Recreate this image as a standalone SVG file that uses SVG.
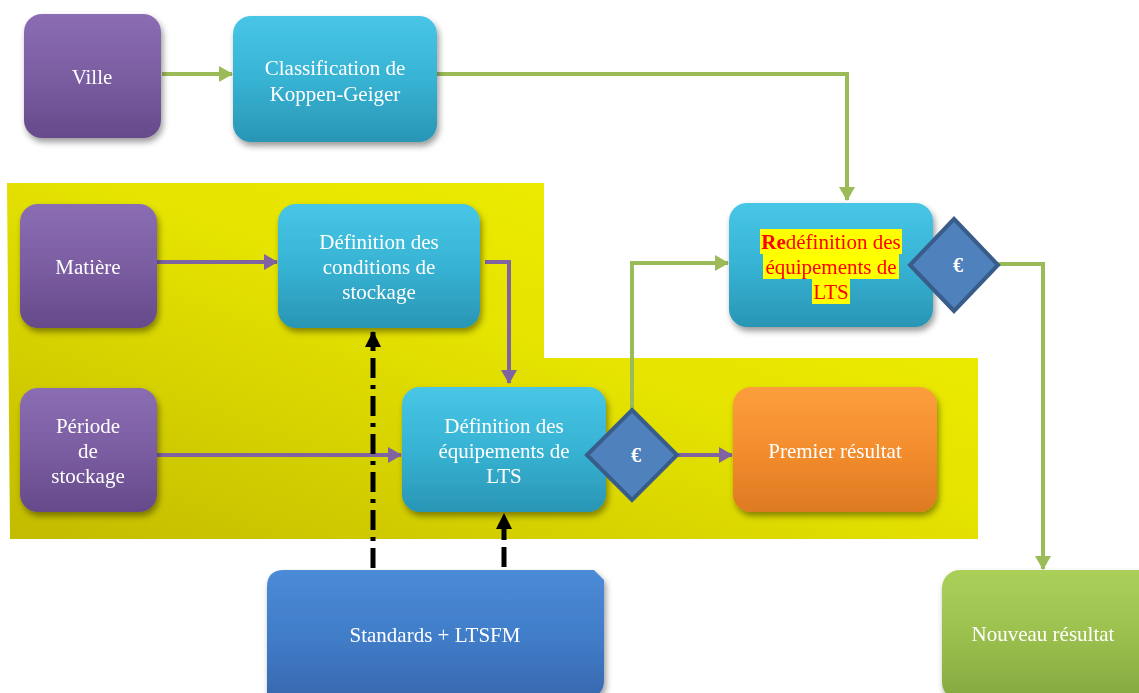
<svg xmlns="http://www.w3.org/2000/svg" width="1139" height="693" viewBox="0 0 1139 693">
<defs>
<style>
.t{font-family:"Liberation Serif","Times New Roman",serif;font-size:21px;fill:#fff;text-anchor:middle}
.eu{font-family:"Liberation Serif","Times New Roman",serif;font-size:20px;font-weight:bold;fill:#fff;text-anchor:middle}
.r{font-family:"Liberation Serif","Times New Roman",serif;font-size:21px;fill:#ff0000;text-anchor:middle}
.g{fill:none;stroke:#9BBB59;stroke-width:4}
.p{fill:none;stroke:#8064A2;stroke-width:4}
.k{fill:none;stroke:#000;stroke-width:5}
.dia{fill:#4F81BD;stroke:#385D8A;stroke-width:4}
.hl{fill:#ffff00}
</style>
<linearGradient id="gy" x1="1" y1="0" x2="0" y2="1">
<stop offset="0" stop-color="#F0F000"/><stop offset="0.45" stop-color="#E6E400"/><stop offset="1" stop-color="#C2BB00"/>
</linearGradient>
<linearGradient id="gp" x1="0" y1="0" x2="0" y2="1">
<stop offset="0" stop-color="#8B6DB3"/><stop offset="0.5" stop-color="#7B5DA2"/><stop offset="1" stop-color="#664A8A"/>
</linearGradient>
<linearGradient id="gc" x1="0" y1="0" x2="0" y2="1">
<stop offset="0" stop-color="#48C6E6"/><stop offset="0.5" stop-color="#37B3D4"/><stop offset="1" stop-color="#2A95B4"/>
</linearGradient>
<linearGradient id="go" x1="0" y1="0" x2="0" y2="1">
<stop offset="0" stop-color="#FC9E3C"/><stop offset="0.5" stop-color="#F38D2E"/><stop offset="1" stop-color="#DD7A22"/>
</linearGradient>
<linearGradient id="gg" x1="0" y1="0" x2="0" y2="1">
<stop offset="0" stop-color="#ABD05A"/><stop offset="0.5" stop-color="#9CC04E"/><stop offset="1" stop-color="#85A83F"/>
</linearGradient>
<linearGradient id="gb" x1="0" y1="0" x2="0" y2="1">
<stop offset="0" stop-color="#4B8AD6"/><stop offset="0.5" stop-color="#417ECA"/><stop offset="1" stop-color="#3869B0"/>
</linearGradient>
<filter id="sh" x="-10%" y="-10%" width="130%" height="130%">
<feDropShadow dx="2" dy="4" stdDeviation="3" flood-color="#000" flood-opacity="0.4"/>
</filter>
<marker id="ag" markerWidth="14" markerHeight="16" refX="13" refY="8" orient="auto" markerUnits="userSpaceOnUse" viewBox="0 0 14 16">
<path d="M0,0 L14,8 L0,16 z" fill="#9BBB59"/>
</marker>
<marker id="ap" markerWidth="14" markerHeight="16" refX="13" refY="8" orient="auto" markerUnits="userSpaceOnUse" viewBox="0 0 14 16">
<path d="M0,0 L14,8 L0,16 z" fill="#8064A2"/>
</marker>
<marker id="ak" markerWidth="16" markerHeight="16" refX="15" refY="8" orient="auto" markerUnits="userSpaceOnUse" viewBox="0 0 16 16">
<path d="M0,0 L16,8 L0,16 z" fill="#000"/>
</marker>
</defs>
<rect width="1139" height="693" fill="#fff"/>
<path id="zone" d="M7,183 L544,183 L544,358 L978,358 L978,539 L10,539 z" fill="url(#gy)"/>

<g id="connectors">
<line class="g" x1="162" y1="74" x2="232" y2="74" marker-end="url(#ag)"/>
<path class="g" d="M437,74 L847,74 L847,200" marker-end="url(#ag)"/>
<path class="g" d="M632,409 L632,263 L728,263" marker-end="url(#ag)"/>
<path class="g" d="M997,264 L1043,264 L1043,569" marker-end="url(#ag)"/>
<line class="p" x1="157" y1="262" x2="277" y2="262" marker-end="url(#ap)"/>
<path class="p" d="M485,262 L509,262 L509,383" marker-end="url(#ap)"/>
<line class="p" x1="157" y1="455" x2="401" y2="455" marker-end="url(#ap)"/>
<line class="p" x1="677" y1="455" x2="732" y2="455" marker-end="url(#ap)"/>
<line class="k" x1="373" y1="568" x2="373" y2="332" stroke-dasharray="20,7,4,7" marker-end="url(#ak)"/>
<line class="k" x1="504" y1="567" x2="504" y2="514" stroke-dasharray="20,7" marker-end="url(#ak)"/>
</g>

<g id="ville" filter="url(#sh)">
<rect x="24" y="14" width="137" height="124" rx="18" fill="url(#gp)"/>
<text class="t" x="92" y="84">Ville</text>
</g>
<g id="classification" filter="url(#sh)">
<rect x="233" y="16" width="204" height="126" rx="18" fill="url(#gc)"/>
<text class="t" x="335" y="75">Classification de</text>
<text class="t" x="335" y="101">Koppen-Geiger</text>
</g>
<g id="matiere" filter="url(#sh)">
<rect x="20" y="204" width="137" height="124" rx="18" fill="url(#gp)"/>
<text class="t" x="88" y="274">Matière</text>
</g>
<g id="conditions" filter="url(#sh)">
<rect x="278" y="204" width="202" height="124" rx="18" fill="url(#gc)"/>
<text class="t" x="379" y="249">Définition des</text>
<text class="t" x="379" y="274">conditions de</text>
<text class="t" x="379" y="299">stockage</text>
</g>
<g id="periode" filter="url(#sh)">
<rect x="20" y="388" width="137" height="124" rx="18" fill="url(#gp)"/>
<text class="t" x="88" y="433">Période</text>
<text class="t" x="88" y="458">de</text>
<text class="t" x="88" y="483">stockage</text>
</g>
<g id="equipements" filter="url(#sh)">
<rect x="402" y="387" width="204" height="125" rx="18" fill="url(#gc)"/>
<text class="t" x="504" y="433">Définition des</text>
<text class="t" x="504" y="458">équipements de</text>
<text class="t" x="504" y="483">LTS</text>
</g>
<g id="euro1">
<path class="dia" d="M632,410 L677,455 L632,500 L587,455 z"/>
<text class="eu" x="636" y="462">€</text>
</g>
<g id="premier" filter="url(#sh)">
<rect x="733" y="387" width="204" height="125" rx="18" fill="url(#go)"/>
<text class="t" x="835" y="458">Premier résultat</text>
</g>
<g id="redefinition" filter="url(#sh)">
<rect x="729" y="203" width="204" height="124" rx="18" fill="url(#gc)"/>
<rect class="hl" x="760" y="229" width="142" height="25"/>
<rect class="hl" x="763" y="254" width="136" height="25"/>
<rect class="hl" x="812" y="279" width="38" height="25"/>
<text class="r" x="831" y="249"><tspan font-weight="bold">Re</tspan>définition des</text>
<text class="r" x="831" y="274">équipements de</text>
<text class="r" x="831" y="299">LTS</text>
</g>
<g id="euro2">
<path class="dia" d="M954,219 L998,265 L954,311 L910,265 z"/>
<text class="eu" x="958" y="272">€</text>
</g>
<g id="standards" filter="url(#sh)">
<path d="M267,587 Q267,570 284,570 L594,570 L604,580 L604,680 Q604,697 587,697 L267,697 z" fill="url(#gb)"/>
<text class="t" x="435" y="642">Standards + LTSFM</text>
</g>
<g id="nouveau" filter="url(#sh)">
<rect x="942" y="570" width="215" height="130" rx="18" fill="url(#gg)"/>
<text class="t" x="1043" y="641">Nouveau résultat</text>
</g>
</svg>
